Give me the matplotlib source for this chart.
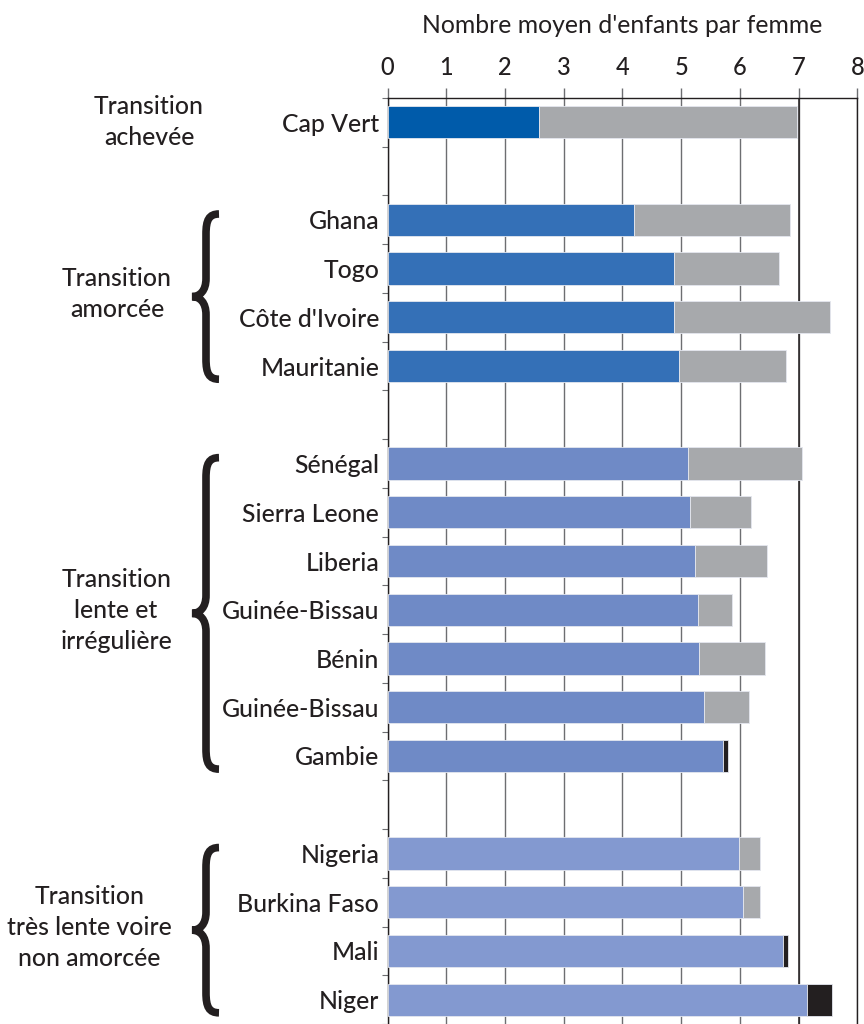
import matplotlib.pyplot as plt
from matplotlib.path import Path
from matplotlib.patches import PathPatch

plt.rcParams['font.family'] = ['Lato', 'DejaVu Sans']
plt.rcParams['font.weight'] = 'medium'

# data
groupes = ['Transition\nachevée',
           'Transition\namorcée',
           'Transition\nlente et\nirrégulière',
           'Transition\ntrès lente voire\nnon amorcée']
pays = [['Cap Vert'],
        ['Ghana', 'Togo', "Côte d'Ivoire", 'Mauritanie'],
        ['Sénégal', 'Sierra Leone', 'Liberia', 'Guinée-Bissau', 'Bénin', 'Guinée-Bissau', 'Gambie'],
        ['Nigeria', 'Burkina Faso', 'Mali', 'Niger']]
isf_actuel = [[2.58],
              [4.20, 4.88, 4.88, 4.96],
              [5.12, 5.15, 5.24, 5.28, 5.31, 5.39, 5.72],
              [5.99, 6.06, 6.74, 7.14]]
isf_autre = [[6.98],
             [6.86, 6.66, 7.53, 6.78],
             [7.06, 6.19, 6.47, 5.87, 6.43, 6.15, 5.80],
             [6.35, 6.35, 6.82, 7.57]]
hausse = ['Gambie', 'Mali', 'Niger']
xticks = [0, 1, 2, 3, 4, 5, 6, 7, 8]

couleurs = ['#005baa', '#3470b7', '#6f8ac6', '#8399d0']
gris = '#a7a9ac'
noir = '#231f20'
trait = '#6d6e71'

W, H = 864, 1024
fig = plt.figure(figsize=(W / 100, H / 100), dpi=100)
ax = fig.add_axes([387.5 / W, 0, 469.8 / W, 926 / H])

# row positions, one empty row between groups
rows = []
pos = 0
for g in pays:
    rows.append(list(range(pos, pos + len(g))))
    pos += len(g) + 1
n_rows = pos - 1

ylabels = {}
for gi in range(len(pays)):
    for r, nom, a, b in zip(rows[gi], pays[gi], isf_actuel[gi], isf_autre[gi]):
        ax.barh(r, a, height=0.66, color=couleurs[gi], edgecolor='#e4e7ef', lw=0.6, zorder=3)
        c = noir if nom in hausse else gris
        ax.barh(r, b - a, left=a, height=0.66, color=c, edgecolor='#e4e7ef', lw=0.6, zorder=3)
        ylabels[r] = nom

ax.set_xlim(0, 8)
ax.set_ylim(n_rows - 0.5, -0.5)

ax.set_yticks(sorted(ylabels))
ax.set_yticklabels([ylabels[k] for k in sorted(ylabels)], fontsize=17.8, color=noir)
ax.set_yticks([k - 0.5 for k in range(n_rows + 1)], minor=True)
ax.tick_params(axis='y', which='major', length=0, pad=6)
ax.tick_params(axis='y', which='minor', length=4, width=0.8, color=trait)

ax.xaxis.tick_top()
ax.xaxis.set_label_position('top')
ax.set_xticks(xticks)
ax.tick_params(axis='x', length=7, width=1, color=trait, pad=6.5, labelsize=17, labelcolor=noir)
ax.set_xlabel("Nombre moyen d'enfants par femme", fontsize=17.8, color=noir, labelpad=17)

ax.grid(axis='x', color=trait, lw=1)
ax.set_axisbelow(True)
ax.axvline(7, color=noir, lw=1.1, zorder=1)
for s in ['top', 'left', 'right']:
    ax.spines[s].set_color(noir)
    ax.spines[s].set_linewidth(1)
ax.spines['bottom'].set_visible(False)

# overlay in pixel coordinates for group labels and braces
ov = fig.add_axes([0, 0, 1, 1], zorder=-1)
ov.set_xlim(0, W)
ov.set_ylim(H, 0)
ov.axis('off')


def row_px(r):
    return H - ax.transData.transform((0, r))[1]


for gi, nom in enumerate(groupes):
    if len(rows[gi]) == 1:
        y = row_px(rows[gi][0])
        ov.text(204, y, nom, ha='right', va='center', multialignment='center',
                fontsize=17.8, color=noir, linespacing=1.42)
        continue
    top = row_px(rows[gi][0] - 0.12)
    bot = row_px(rows[gi][-1] + 0.27)
    mid = (top + bot) / 2
    verts = [(219, top), (209, top), (206, top + 6), (206, top + 20),
             (206, mid - 18),
             (206, mid - 6), (200, mid), (192, mid),
             (200, mid), (206, mid + 6), (206, mid + 18),
             (206, bot - 20),
             (206, bot - 6), (209, bot), (219, bot)]
    codes = [Path.MOVETO, Path.CURVE4, Path.CURVE4, Path.CURVE4,
             Path.LINETO,
             Path.CURVE4, Path.CURVE4, Path.CURVE4,
             Path.CURVE4, Path.CURVE4, Path.CURVE4,
             Path.LINETO,
             Path.CURVE4, Path.CURVE4, Path.CURVE4]
    ov.add_patch(PathPatch(Path(verts, codes), fill=False, lw=5.5, color=noir, capstyle='butt'))
    ov.text(172, mid - 3, nom, ha='right', va='center', multialignment='center',
            fontsize=17.8, color=noir, linespacing=1.42)

fig.savefig('out.png', dpi=100)
